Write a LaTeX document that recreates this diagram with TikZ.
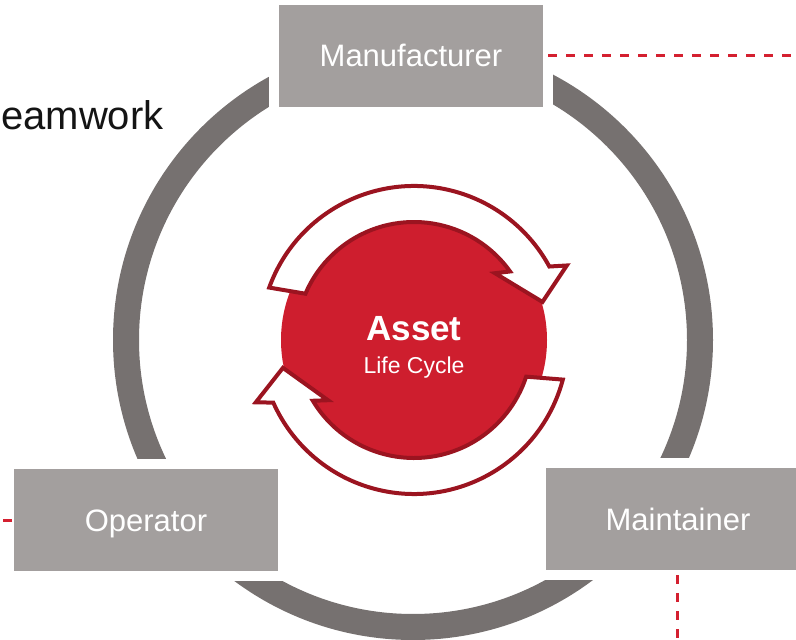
\documentclass[tikz,border=0pt]{standalone}
\usepackage{fontspec}
\setmainfont{Liberation Sans}
\usetikzlibrary{positioning}
\definecolor{ringgrey}{RGB}{118,113,112}
\definecolor{boxgrey}{RGB}{163,159,158}
\definecolor{assetred}{RGB}{206,30,46}
\definecolor{arrowred}{RGB}{155,20,32}
\definecolor{dashred}{RGB}{212,32,48}
\tikzset{
  rolebox/.style={fill=boxgrey, draw=white, line width=10pt, minimum width=274pt,
    minimum height=112pt, inner sep=0pt, outer sep=0pt, text=white,
    font=\fontsize{31}{36}\selectfont, text height=22pt, text depth=0pt},
  ring/.style={draw=ringgrey, line width=26pt},
  cyclearrow/.style={fill=white, draw=arrowred, line width=4pt},
  reddash/.style={draw=dashred, line width=3pt, dash pattern=on 9pt off 9pt},
}
% #1 tail angle, #2 tip angle (clockwise arrow round the asset)
\newcommand{\cyclearrow}[2]{%
  \draw[cyclearrow] ({#1+1.6}:154) arc[start angle={#1+1.6}, end angle={#2+12}, radius=154]
    -- ({#2+9.5}:170) -- (#2:134) -- ({#2+23}:105) -- ({#2+19}:118)
    arc[start angle={#2+19}, end angle={#1-1.6}, radius=118] -- cycle;}
\begin{document}
\begin{tikzpicture}[x=1pt, y=1pt]
  \useasboundingbox (0,0) rectangle (796,640);
  \coordinate (hub) at (413,300);
  \draw[ring] (hub) circle[radius=287]; % outer ring
  % roles
  \node[rolebox] (manufacturer) at (411,584) {Manufacturer};
  \node[rolebox] (operator) at (146,119.5) {Operator};
  \node[rolebox] (maintainer) at (678,120.5) {Maintainer};
  \coordinate (mEnd) at (810,584);
  \coordinate (oEnd) at (-20,119.5);
  \coordinate (tEnd) at (677,-20);
  \draw[reddash] (manufacturer.east) -- (mEnd);
  \draw[reddash] ([xshift=3pt]operator.west) -- (oEnd);
  \draw[reddash] ([xshift=-1pt]maintainer.south) -- (tEnd);
  \node[anchor=base west, inner sep=0pt, font=\fontsize{40}{48}\selectfont, text=black!92] (teamwork) at (1,510) {eamwork};
  % asset life cycle
  \node[circle, fill=assetred, minimum size=266pt, inner sep=0pt] (life) at (414,300) {};
  \begin{scope}[shift={(life.center)}]
    \cyclearrow{158.5}{16.5}
    \cyclearrow{-16.5}{-168}
  \end{scope}
  \node[text=white, font=\bfseries\fontsize{35}{40}\selectfont, text height=25pt, text depth=0pt] (asset) at (414,312) {Asset};
  \node[text=white, font=\fontsize{23}{27}\selectfont, text height=16.5pt, text depth=0pt] (lifecycle) at (414,275) {Life Cycle};
\end{tikzpicture}
\end{document}
